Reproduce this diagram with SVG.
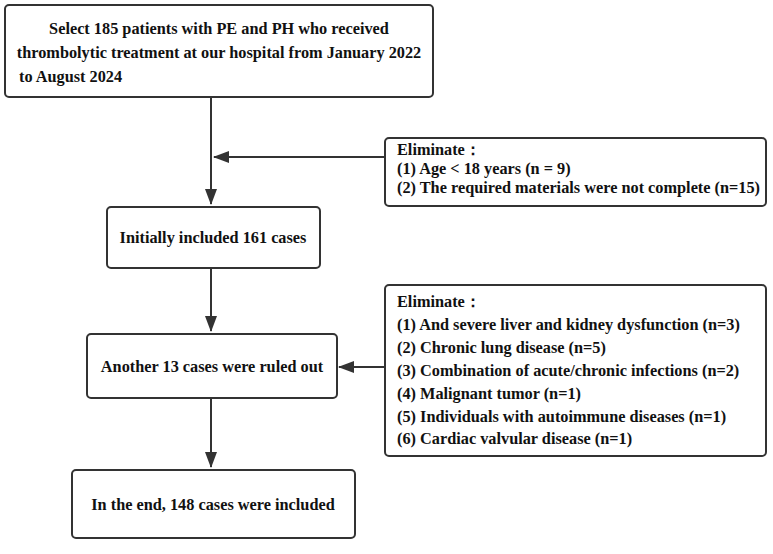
<svg xmlns="http://www.w3.org/2000/svg" width="773" height="554" viewBox="0 0 773 554">
<style>
.b{fill:#fff;stroke:#333;stroke-width:2}
text{font-family:"Liberation Serif",serif;font-weight:bold;font-size:16.3px;fill:#111}
.c{text-anchor:middle}
.l{stroke:#333;stroke-width:2;fill:none}
</style>
<defs><marker id="a2" markerWidth="16" markerHeight="12" refX="15" refY="6" orient="auto" markerUnits="userSpaceOnUse"><path d="M0,0 L16,6 L0,12 z" fill="#333"/></marker></defs>
<rect width="773" height="554" fill="#fff"/>
<g id="connectors">
<path class="l" d="M211,97 V204" marker-end="url(#a2)"/>
<path class="l" d="M385,157 H214" marker-end="url(#a2)"/>
<path class="l" d="M211,268 V331" marker-end="url(#a2)"/>
<path class="l" d="M385,367 H339" marker-end="url(#a2)"/>
<path class="l" d="M211,398 V467" marker-end="url(#a2)"/>
</g>
<g id="n1"><rect class="b" x="5" y="5" width="428" height="92" rx="4"/>
<text class="c" x="219" y="34">Select 185 patients with PE and PH who received</text>
<text class="c" x="219" y="58">thrombolytic treatment at our hospital from January 2022</text>
<text x="19" y="82">to August 2024</text></g>
<g id="n2"><rect class="b" x="385" y="138" width="381" height="68" rx="4"/>
<text x="397" y="155">Eliminate：</text>
<text x="397" y="174">(1) Age &lt; 18 years (n = 9)</text>
<text x="397" y="193">(2) The required materials were not complete (n=15)</text></g>
<g id="n3"><rect class="b" x="107" y="207" width="213" height="61" rx="4"/>
<text class="c" x="213" y="243">Initially included 161 cases</text></g>
<g id="n4"><rect class="b" x="385" y="285" width="381" height="171" rx="4"/>
<text x="397" y="307">Eliminate：</text>
<text x="397" y="330">(1) And severe liver and kidney dysfunction (n=3)</text>
<text x="397" y="353">(2) Chronic lung disease (n=5)</text>
<text x="397" y="376">(3) Combination of acute/chronic infections (n=2)</text>
<text x="397" y="399">(4) Malignant tumor (n=1)</text>
<text x="397" y="422">(5) Individuals with autoimmune diseases (n=1)</text>
<text x="397" y="444">(6) Cardiac valvular disease (n=1)</text></g>
<g id="n5"><rect class="b" x="87" y="334" width="250" height="64" rx="4"/>
<text class="c" x="212" y="372">Another 13 cases were ruled out</text></g>
<g id="n6"><rect class="b" x="72" y="470" width="283" height="68" rx="4"/>
<text class="c" x="213" y="510">In the end, 148 cases were included</text></g>
</svg>
